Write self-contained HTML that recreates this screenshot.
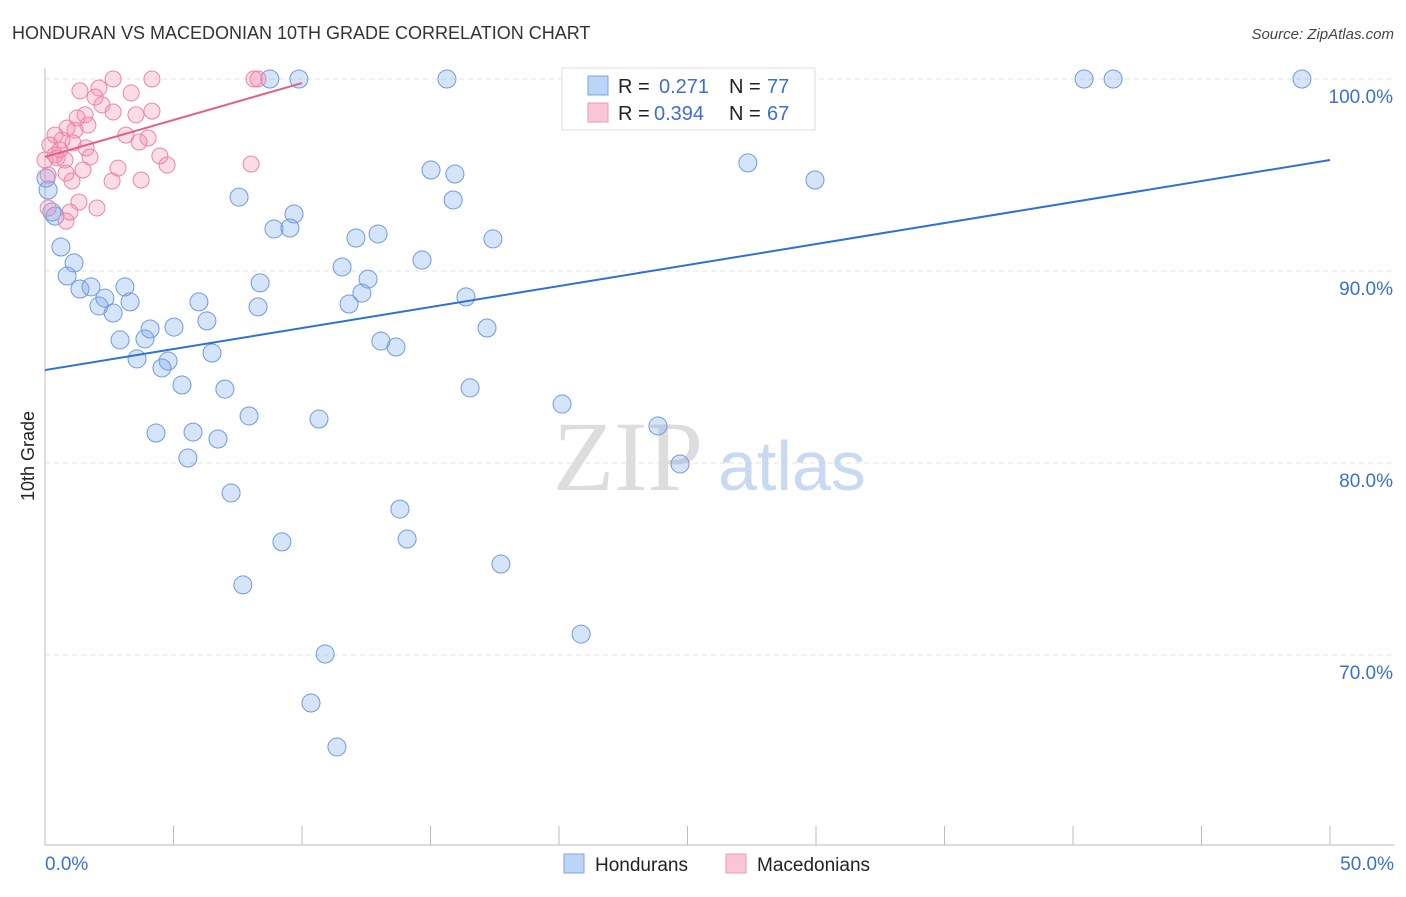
<!DOCTYPE html>
<html><head><meta charset="utf-8"><style>
body{margin:0;background:#fff;font-family:"Liberation Sans",sans-serif}
svg text{font-family:"Liberation Sans",sans-serif}
svg text.serif{font-family:"Liberation Serif",serif}
</style></head><body>
<svg id="chart" width="1406" height="892" viewBox="0 0 1406 892" xmlns="http://www.w3.org/2000/svg">
<text x="12" y="39" font-size="18" fill="#333">HONDURAN VS MACEDONIAN 10TH GRADE CORRELATION CHART</text>
<text x="1394" y="39" font-size="15" fill="#444" text-anchor="end" font-style="italic">Source: ZipAtlas.com</text>
<g id="grid"></g>
<text class="serif" x="553" y="490" font-size="100" fill="#ddd">ZIP</text>
<text x="718" y="490" font-size="70" fill="#c9d9f2">atlas</text>
<g id="marks"></g>
<text transform="translate(34,456) rotate(-90)" font-size="18" fill="#222" text-anchor="middle">10th Grade</text>
<g>
<rect x="562" y="68" width="253" height="62" fill="#fff" stroke="#ddd"/>
<rect x="588" y="76" width="20" height="19" fill="#bcd4f5" stroke="#7aa6e6"/>
<rect x="588" y="103" width="20" height="19" fill="#fac5d6" stroke="#ee9ab8"/>
<text x="618" y="93" font-size="20" fill="#222">R =</text>
<text x="659" y="93" font-size="20" fill="#3b6fd0">0.271</text>
<text x="729" y="93" font-size="20" fill="#222">N =</text>
<text x="767" y="93" font-size="20" fill="#3b6fd0">77</text>
<text x="618" y="120" font-size="20" fill="#222">R =</text>
<text x="654" y="120" font-size="20" fill="#3b6fd0">0.394</text>
<text x="729" y="120" font-size="20" fill="#222">N =</text>
<text x="767" y="120" font-size="20" fill="#3b6fd0">67</text>
</g>
<g>
<rect x="564" y="854" width="20" height="19" fill="#bcd4f5" stroke="#7aa6e6"/>
<text x="595" y="871" font-size="19" fill="#222">Hondurans</text>
<rect x="726" y="854" width="20" height="19" fill="#fac5d6" stroke="#ee9ab8"/>
<text x="757" y="871" font-size="19" fill="#222">Macedonians</text>
</g>
<text x="45" y="870" font-size="19" fill="#3b6fd0">0.0%</text>
<text x="1394" y="870" font-size="19" fill="#3b6fd0" text-anchor="end">50.0%</text>
</svg>
<script>
const yTicks=[100,90,80,70];
const blueX=[8.75,9.88,15.64,40.43,41.56,48.91,25.02,28.13,27.35,29.96,15.02,15.95,15.88,7.55,9.69,8.91,9.53,12.10,12.96,17.43,14.67,11.56,12.57,8.37,12.33,11.83,16.38,8.29,0.39,0.62,1.13,0.86,1.36,1.79,2.33,2.10,2.65,3.11,3.31,5.99,4.09,5.02,6.30,2.92,3.89,13.07,13.66,17.20,6.50,4.79,3.58,4.55,5.33,7.00,16.54,20.12,7.94,10.66,4.32,5.76,6.73,23.85,5.56,24.71,7.24,13.81,14.09,9.22,17.74,7.70,20.86,10.90,10.35,11.36,0.12,0.04,0.27];
const blueY=[100,100,100,100,100,100,100,100,95.63,94.74,95.26,95.05,93.70,93.85,92.97,92.19,92.24,91.72,91.93,91.67,90.57,90.21,89.58,89.38,88.85,88.28,88.65,88.13,92.86,91.25,90.42,89.74,89.06,89.17,88.59,88.18,87.81,89.17,88.39,88.39,86.98,87.08,87.40,86.41,86.46,86.35,86.04,87.03,85.73,85.31,85.42,84.95,84.06,83.85,83.91,83.07,82.45,82.29,81.56,81.61,81.25,81.93,80.26,79.95,78.44,77.60,76.04,75.89,74.74,73.65,71.09,70.05,67.50,65.21,94.22,94.84,93.07];
const pinkX=[2.65,4.16,8.13,8.29,2.10,1.36,3.35,1.95,2.22,2.65,3.54,1.56,4.16,1.25,0.86,1.17,1.67,3.15,4.01,3.66,0.39,0.66,0.19,0.58,1.09,1.60,0.47,0,1.75,4.47,4.75,2.84,1.48,0.82,8.02,0.12,1.05,2.61,3.74,1.32,2.02,0.97,0.12,0.82,0.39,0.78];
const pinkY=[100,100,100,100,99.53,99.38,99.27,99.06,98.65,98.28,98.13,98.13,98.33,97.97,97.45,97.34,97.60,97.08,96.93,96.72,97.08,96.82,96.56,96.30,96.67,96.41,95.89,95.78,95.94,95.99,95.52,95.36,95.26,95.10,95.57,95.00,94.69,94.69,94.74,93.59,93.28,93.07,93.28,92.60,96.04,95.78];
const blueTrend=[84.84,95.78];
const pinkTrend=[95.94,99.79];
const pinkTrendEnd=10;
const NS="http://www.w3.org/2000/svg";
const sx=v=>45+v/50*1285, sy=v=>79+(100-v)*19.2;
function mk(tag,attrs,parent){const e=document.createElementNS(NS,tag);for(const k in attrs)e.setAttribute(k,attrs[k]);parent.appendChild(e);return e;}
const grid=document.getElementById('grid'), marks=document.getElementById('marks');
yTicks.forEach(t=>{
  const l=mk('line',{x1:45,x2:1394,y1:sy(t),y2:sy(t),stroke:'#e2e2e2','stroke-dasharray':'5,4'},grid);
  
  
  const tx=mk('text',{x:1393,y:sy(t)+24,'font-size':19,fill:'#3b6fd0','text-anchor':'end'},grid);
  tx.textContent=t.toFixed(1)+'%';
  
  
});
const ax=mk('line',{x1:45,x2:1394,y1:845,y2:845,stroke:'#bbb'},grid);


const ay=mk('line',{x1:45,x2:45,y1:68,y2:845,stroke:'#bbb'},grid);


for(let i=0;i<=10;i++){
  const t=mk('line',{x1:sx(i*5),x2:sx(i*5),y1:826,y2:845,stroke:'#bbb'},grid);
  
  
}
blueX.forEach((x,i)=>{
  const c=mk('circle',{cx:sx(x),cy:sy(blueY[i]),r:9,fill:'rgba(120,165,235,0.3)',stroke:'#6d9be0','stroke-width':1},marks);
  
  
});
pinkX.forEach((x,i)=>{
  const c=mk('circle',{cx:sx(x),cy:sy(pinkY[i]),r:8,fill:'rgba(245,140,175,0.3)',stroke:'#ea86a8','stroke-width':1},marks);
  
  
});
const bl=mk('line',{x1:sx(0),y1:sy(blueTrend[0]),x2:sx(50),y2:sy(blueTrend[1]),stroke:'#2f6fd6','stroke-width':2},marks);


const pl=mk('line',{x1:sx(0),y1:sy(pinkTrend[0]),x2:sx(pinkTrendEnd),y2:sy(pinkTrend[1]),stroke:'#e0608a','stroke-width':2},marks);


</script>
</body></html>
